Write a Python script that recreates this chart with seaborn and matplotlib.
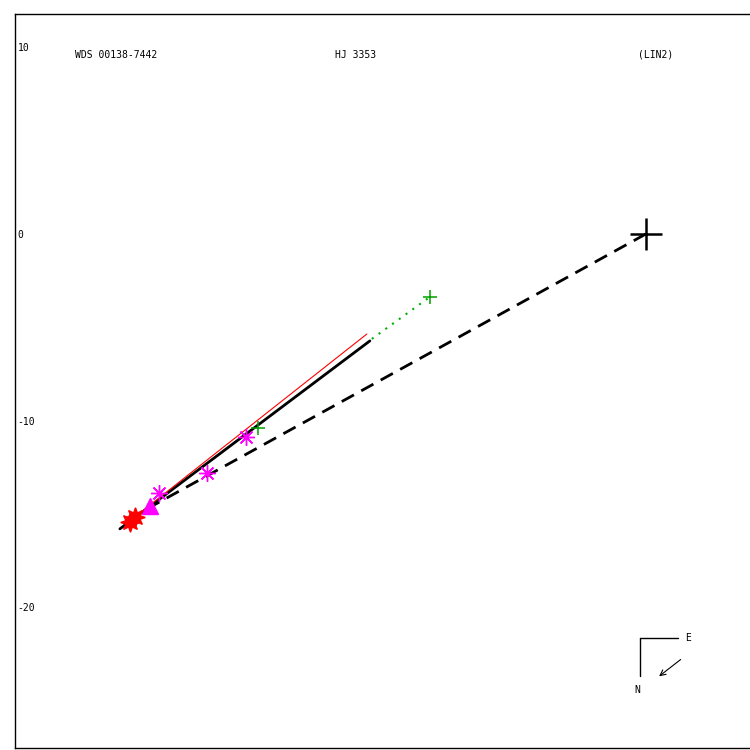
import matplotlib
matplotlib.use("Agg")
import matplotlib.pyplot as plt
import seaborn as sns
import pandas as pd

# Header labels
star_id = "WDS 00138-7442"
disc_name = "HJ 3353"
orbit_tag = "(LIN2)"

# y tick values (arcsec)
y_ticks = [10, 0, -10, -20]
y_tick_labels = ["10", "0", "-10", "-20"]

# Linear fit (solid black) and ephemeris (red)
fit_x = [-28.18, -14.79]
fit_y = [-15.80, -5.73]
eph_x = [-27.64, -14.95]
eph_y = [-15.37, -5.36]

# Extrapolation to last measure (green dotted)
ext_x = [-14.68, -11.57]
ext_y = [-5.62, -3.37]

# Line from primary to closest point (dashed)
node_x = [0.0, -26.84]
node_y = [0.0, -14.79]

# Measures
green_x = [-11.57, -20.79]
green_y = [-3.37, -10.39]
mag_x = [-26.09, -23.52, -21.43]
mag_y = [-13.87, -12.80, -10.87]
tri_x = [-26.57]
tri_y = [-14.57]
red_x = [-27.64, -27.38]
red_y = [-15.43, -15.16]

sns.set_style("white")
plt.rcParams["font.family"] = ["DejaVu Sans Mono", "DejaVu Sans"]
plt.rcParams["text.color"] = "black"
plt.rcParams["ytick.color"] = "black"
plt.rcParams["ytick.labelcolor"] = "black"

fig = plt.figure(figsize=(7.5, 7.5), dpi=100)
ax = fig.add_axes([0.02, 0.0027, 0.99, 0.9787])

sns.lineplot(x=node_x, y=node_y, sort=False, ax=ax, color="black", lw=2,
             dashes=False, linestyle=(0, (5, 3)))
sns.lineplot(x=fit_x, y=fit_y, sort=False, ax=ax, color="black", lw=2)
sns.lineplot(x=eph_x, y=eph_y, sort=False, ax=ax, color="red", lw=0.8)
sns.lineplot(x=ext_x, y=ext_y, sort=False, ax=ax, color="#00b000", lw=1.5,
             linestyle=(0, (1, 3)))

ax.plot([0], [0], marker="+", ms=23, mew=1.8, color="black", ls="none")
ax.plot(green_x, green_y, marker="+", ms=10, mew=1.1, color="#00a000", ls="none")
ax.plot(mag_x, mag_y, marker=(8, 2, 0), ms=12, mew=1.0, color="magenta", ls="none")
ax.plot(mag_x, mag_y, marker="o", ms=3, color="magenta", ls="none")
ax.plot(tri_x, tri_y, marker="^", ms=11, color="magenta", ls="none")
ax.plot(red_x, red_y, marker=(8, 1, 0), ms=14, color="red", ls="none")

ax.set_xlim(-33.80, 5.98)
ax.set_ylim(-27.54, 11.79)
ax.set_xticks([])
ax.set_yticks(y_ticks)
ax.set_yticklabels(y_tick_labels, fontsize=7, color="black")
ax.tick_params(axis="y", length=0, pad=-2)
for lab in ax.get_yticklabels():
    lab.set_horizontalalignment("left")

for side in ["left", "top", "bottom"]:
    ax.spines[side].set_color("black")
    ax.spines[side].set_linewidth(1)
ax.spines["right"].set_visible(False)

# header
ax.text(-30.6, 9.6, star_id, fontsize=7, ha="left", va="center", color="black")
ax.text(-16.65, 9.6, disc_name, fontsize=7, ha="left", va="center", color="black")
ax.text(-0.43, 9.6, orbit_tag, fontsize=7, ha="left", va="center", color="black")

# compass
ax.plot([-0.32, 1.71], [-21.64, -21.64], color="black", lw=1)
ax.plot([-0.32, -0.32], [-21.64, -23.68], color="black", lw=1)
ax.text(2.25, -21.64, "E", fontsize=7, ha="center", va="center", color="black")
ax.text(-0.48, -24.43, "N", fontsize=7, ha="center", va="center", color="black")
ax.annotate("", xy=(0.59, -23.79), xytext=(1.98, -22.71),
            arrowprops=dict(arrowstyle="->", color="black", lw=0.8))

fig.savefig("out.png", dpi=100)
